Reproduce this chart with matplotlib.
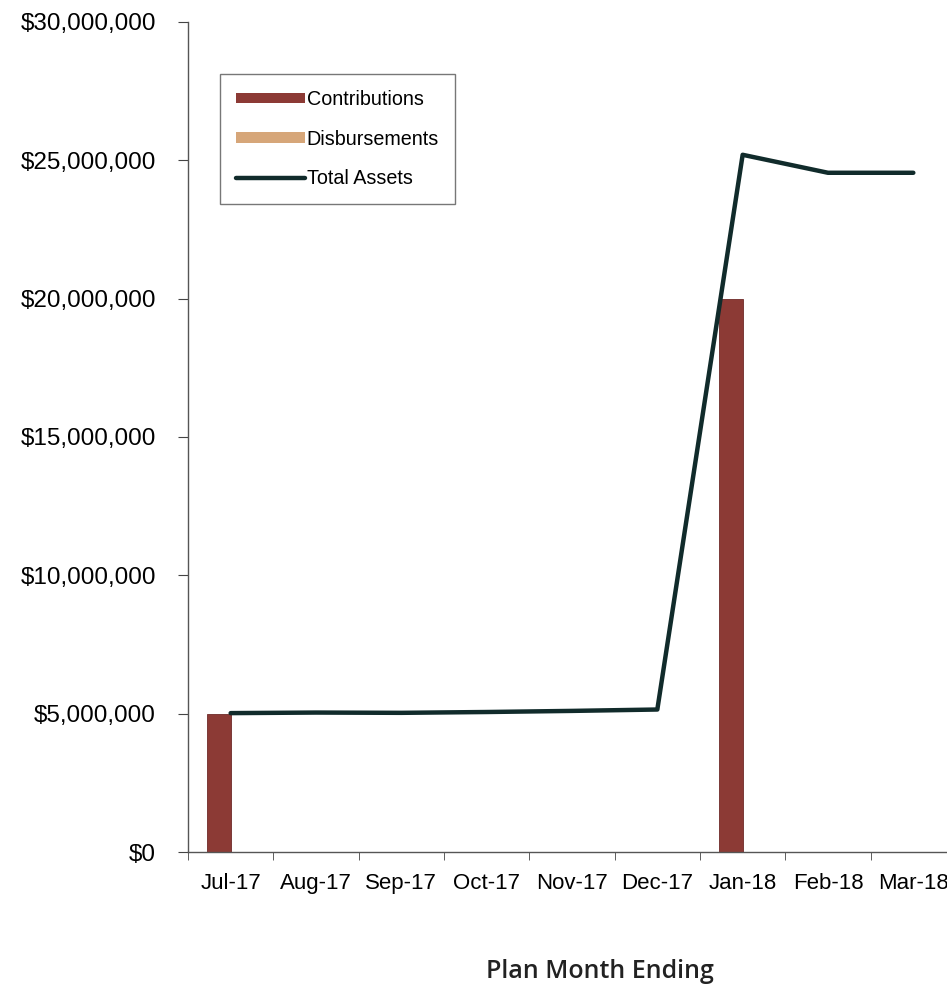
import numpy as np
import matplotlib.pyplot as plt
from matplotlib.patches import Patch
from matplotlib.lines import Line2D
from matplotlib.ticker import FuncFormatter, MultipleLocator

# Monthly plan activity
months = ["Jul-17", "Aug-17", "Sep-17", "Oct-17", "Nov-17", "Dec-17", "Jan-18", "Feb-18", "Mar-18"]
contributions = [5000000, 0, 0, 0, 0, 0, 20000000, 0, 0]
disbursements = [0, 0, 0, 0, 0, 0, 0, 0, 0]
total_assets = [5020000, 5040000, 5030000, 5060000, 5100000, 5150000, 25200000, 24550000, 24550000]

c_contrib = "#8c3a35"
c_disb = "#d6a679"
c_total = "#112b2b"

plt.rcParams["font.family"] = ["Liberation Sans", "DejaVu Sans"]

fig = plt.figure(figsize=(9.47, 9.86), dpi=100)
ax = fig.add_axes([0.1985, 0.1359, 0.8110, 0.8418])

x = np.arange(len(months))
w = 0.28
ax.bar(x - w / 2, contributions, w, color=c_contrib, edgecolor="#6e2a28", linewidth=0.6, zorder=2)
ax.bar(x + w / 2, disbursements, w, color=c_disb, zorder=2)
ax.plot(x, total_assets, color=c_total, linewidth=3.2, solid_capstyle="round", zorder=3)

ax.set_xlim(-0.5, len(months) - 0.5)
ax.set_ylim(0, 30000000)
ax.yaxis.set_major_locator(MultipleLocator(5000000))
ax.yaxis.set_major_formatter(FuncFormatter(lambda v, p: "${:,.0f}".format(v)))

ax.set_xticks(x)
ax.set_xticklabels(months)
ax.set_xticks(np.arange(-0.5, len(months)), minor=True)
ax.tick_params(axis="x", which="major", length=0, pad=15, labelsize=16)
ax.tick_params(axis="x", which="minor", length=6, direction="out", color="#444444")
ax.tick_params(axis="y", length=7, direction="out", color="#444444", pad=16, labelsize=17.5)

for s in ["top", "right"]:
    ax.spines[s].set_visible(False)
for s in ["left", "bottom"]:
    ax.spines[s].set_color("#555555")
    ax.spines[s].set_linewidth(1.0)

fig.text(0.633, 0.008, "Plan Month Ending", ha="center", va="baseline",
         fontsize=18, fontweight="semibold", family=["Open Sans", "DejaVu Sans"], color="#222222")

handles = [
    Patch(facecolor=c_contrib, edgecolor="none"),
    Patch(facecolor=c_disb, edgecolor="none"),
    Line2D([0], [0], color=c_total, linewidth=3.2, solid_capstyle="round"),
]
leg = ax.legend(handles, ["Contributions", "Disbursements", "Total Assets"],
                loc="upper left", bbox_to_anchor=(0.0417, 0.937),
                fontsize=14.2, frameon=True, fancybox=False, edgecolor="#555555",
                handlelength=3.5, handleheight=0.45, handletextpad=0.1,
                labelspacing=1.05, borderpad=0.8, borderaxespad=0)
leg.get_frame().set_linewidth(1.0)

fig.savefig("out.png", dpi=100)
